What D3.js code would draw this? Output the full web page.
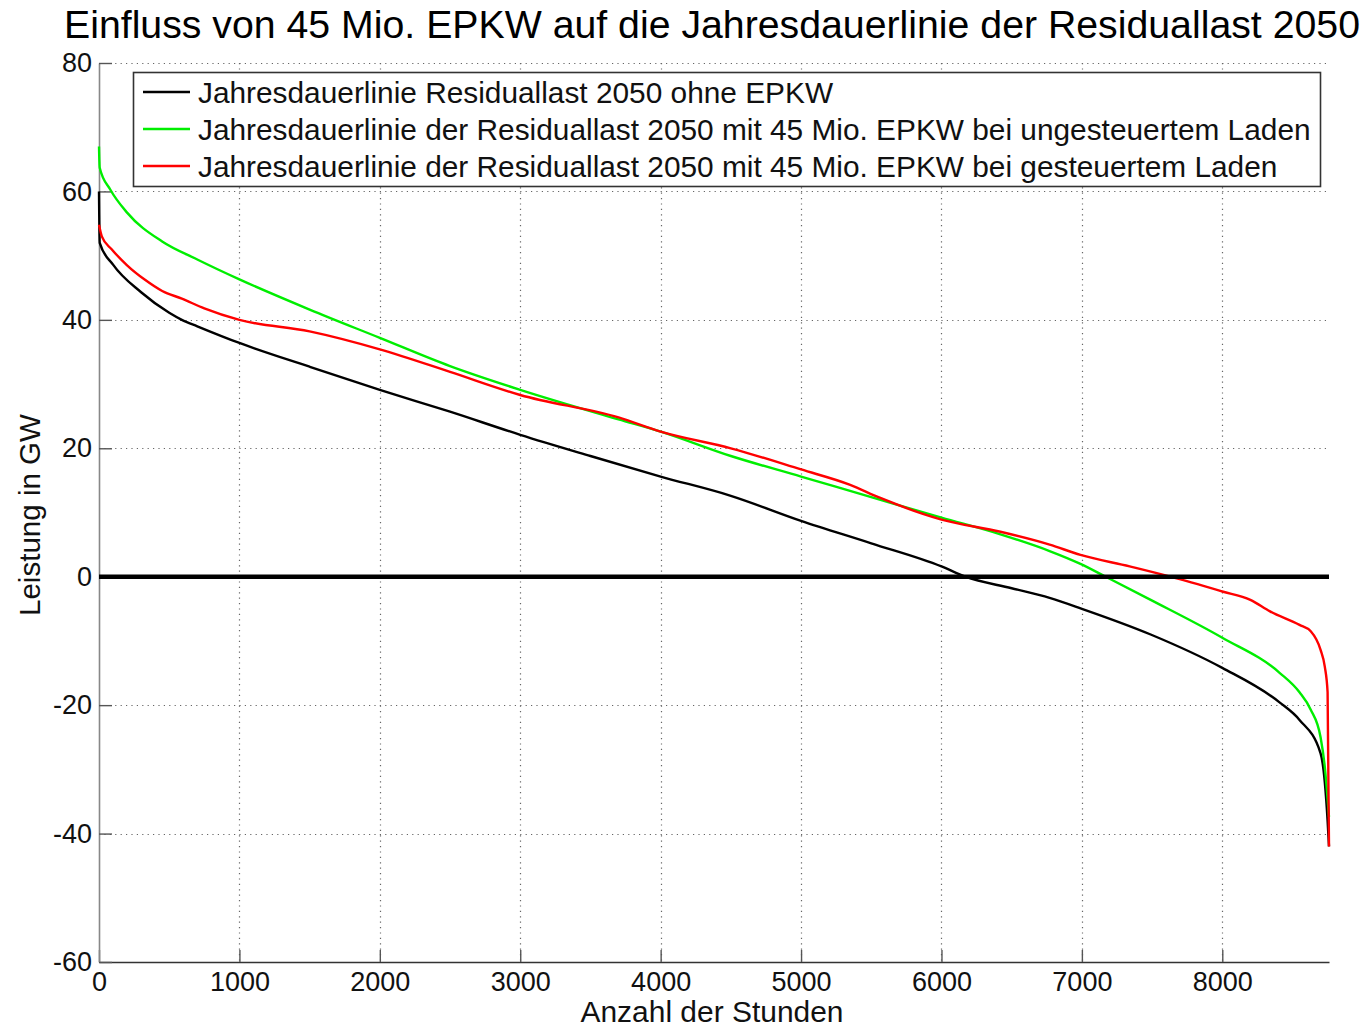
<!DOCTYPE html>
<html>
<head>
<meta charset="utf-8">
<script src="https://cdn.jsdelivr.net/npm/d3@7/dist/d3.min.js"></script>
<style>
  html, body { margin: 0; padding: 0; background: #fff; }
  svg { display: block; font-family: "Liberation Sans", Arial, Helvetica, sans-serif; }
</style>
</head>
<body>
<svg id="chart" width="1367" height="1027"></svg>
<script>
// Annual load duration curves of the residual load 2050 (GW over hours of the year)
const titleText = "Einfluss von 45 Mio. EPKW auf die Jahresdauerlinie der Residuallast 2050";
const xLabel = "Anzahl der Stunden";
const yLabel = "Leistung in GW";

const xTicks = [0, 1000, 2000, 3000, 4000, 5000, 6000, 7000, 8000];
const yTicks = [-60, -40, -20, 0, 20, 40, 60, 80];

const seriesNames = [
  "Jahresdauerlinie Residuallast 2050 ohne EPKW",
  "Jahresdauerlinie der Residuallast 2050 mit 45 Mio. EPKW bei ungesteuertem Laden",
  "Jahresdauerlinie der Residuallast 2050 mit 45 Mio. EPKW bei gesteuertem Laden"
];
const seriesColors = ["#000000", "#00ee00", "#ff0000"];

// ohne EPKW
const hoursBase = [0, 5, 100, 300, 500, 590, 700, 1000, 1500, 2000, 2500, 3000, 3500, 4000, 4500, 5000, 5500, 6000, 6170, 6500, 6770, 7000, 7490, 8000, 8410, 8550, 8700, 8730, 8750, 8760];
const loadBase  = [60, 52, 48.6, 44.3, 41.1, 40, 39, 36.4, 32.7, 29.1, 25.7, 22.1, 18.8, 15.6, 12.6, 8.7, 5.2, 1.6, 0, -1.8, -3.3, -5, -9, -14.2, -19.6, -22.3, -27.5, -32, -38, -42];

// mit 45 Mio. EPKW, ungesteuertes Laden
const hoursUncontrolled = [0, 5, 80, 200, 450, 700, 1000, 1500, 2000, 2500, 3000, 3700, 4000, 4500, 5000, 5560, 6000, 6420, 6770, 6990, 7170, 7490, 8000, 8410, 8550, 8630, 8700, 8730, 8760];
const loadUncontrolled  = [67, 63.7, 60.3, 56.7, 52.2, 49.4, 46.3, 41.6, 37.2, 32.8, 29.1, 24.5, 22.6, 18.8, 15.6, 12, 9.2, 6.6, 4.0, 2.0, 0, -3.6, -9.5, -15, -18, -20.7, -25, -29.6, -37.4];

// mit 45 Mio. EPKW, gesteuertes Laden
const hoursControlled = [0, 20, 90, 200, 330, 450, 590, 750, 1000, 1500, 2000, 2500, 3000, 3700, 4000, 4500, 5000, 5350, 5560, 6000, 6420, 6770, 6990, 7340, 7630, 8000, 8200, 8340, 8550, 8630, 8700, 8730, 8750, 8760];
const loadControlled  = [54.8, 53, 51, 48.5, 46.2, 44.5, 43.3, 41.8, 40, 38.2, 35.4, 31.9, 28.3, 24.8, 22.6, 20, 16.7, 14.3, 12.3, 8.9, 7, 5, 3.4, 1.6, 0, -2.3, -3.6, -5.4, -7.5, -8.5, -11.4, -14, -18, -42];

const svg = d3.select("#chart");
const margin = { left: 99, right: 1329, top: 63, bottom: 962 };

const x = d3.scaleLinear().domain([0, 8760]).range([margin.left, margin.right]);
const y = d3.scaleLinear().domain([-60, 80]).range([margin.bottom, margin.top]);

// fit a text element to a target width by scaling its font size
function fitWidth(sel, target) {
  const node = sel.node();
  const fs = parseFloat(sel.attr("font-size"));
  const w = node.getComputedTextLength();
  sel.attr("font-size", (fs * target / w).toFixed(2));
}

// dotted grid
const grid = svg.append("g").attr("stroke", "#666").attr("stroke-width", 1.2)
  .attr("stroke-dasharray", "1.2,4.2").attr("fill", "none");
grid.selectAll("line.h").data(yTicks.filter(v => v !== -60)).join("line")
  .attr("class", "h")
  .attr("x1", x(0)).attr("x2", x(8760))
  .attr("y1", d => Math.round(y(d)) + 0.5).attr("y2", d => Math.round(y(d)) + 0.5);
grid.selectAll("line.v").data(xTicks.filter(v => v !== 0)).join("line")
  .attr("class", "v")
  .attr("y1", y(80)).attr("y2", y(-60))
  .attr("x1", d => Math.round(x(d)) + 0.5).attr("x2", d => Math.round(x(d)) + 0.5);

// axes with inward ticks, plain integer labels
const plain = d => String(d);
const xAxis = d3.axisBottom(x).tickValues(xTicks).tickFormat(plain).tickSizeInner(-12).tickSizeOuter(0).tickPadding(20);
const yAxis = d3.axisLeft(y).tickValues(yTicks).tickFormat(plain).tickSizeInner(-13).tickSizeOuter(0).tickPadding(20);

const gx = svg.append("g").attr("transform", `translate(0,${margin.bottom})`).call(xAxis);
gx.select(".domain").attr("stroke", "#333").attr("stroke-width", 1.6);
gx.selectAll(".tick line").attr("stroke", "#555").attr("stroke-width", 1.4);
gx.selectAll(".tick text").attr("font-size", 27).attr("fill", "#111")
  .attr("font-family", "'Liberation Sans', Arial, sans-serif").attr("dy", "0.35em").attr("y", 20);

const gy = svg.append("g").attr("transform", `translate(${margin.left},0)`).call(yAxis);
gy.select(".domain").attr("stroke", "#888").attr("stroke-width", 1.6);
gy.selectAll(".tick line").attr("stroke", "#555").attr("stroke-width", 1.4);
gy.selectAll(".tick text").attr("font-size", 27).attr("fill", "#111")
  .attr("font-family", "'Liberation Sans', Arial, sans-serif").attr("x", -7);

// curves
const series = [
  { hours: hoursBase, load: loadBase },
  { hours: hoursUncontrolled, load: loadUncontrolled },
  { hours: hoursControlled, load: loadControlled }
];
const line = d3.line().x(d => x(d[0])).y(d => y(d[1])).curve(d3.curveMonotoneX);
series.forEach((s, i) => {
  svg.append("path")
    .datum(s.hours.map((h, k) => [h, s.load[k]]))
    .attr("d", line)
    .attr("fill", "none")
    .attr("stroke", seriesColors[i])
    .attr("stroke-width", 2.4)
    .attr("stroke-linejoin", "round");
});

// zero reference line
svg.append("line")
  .attr("x1", x(0)).attr("x2", x(8760))
  .attr("y1", y(0)).attr("y2", y(0))
  .attr("stroke", "#000").attr("stroke-width", 4.5);

// legend
const legend = svg.append("g");
legend.append("rect")
  .attr("x", 133.5).attr("y", 72.5).attr("width", 1187).attr("height", 114)
  .attr("fill", "#fff").attr("stroke", "#333").attr("stroke-width", 1.6);
const rowY = [92, 129, 166];
seriesNames.forEach((name, i) => {
  legend.append("line")
    .attr("x1", 143).attr("x2", 190).attr("y1", rowY[i]).attr("y2", rowY[i])
    .attr("stroke", seriesColors[i]).attr("stroke-width", 2.4);
  const t = legend.append("text")
    .attr("x", 198).attr("y", rowY[i]).attr("dy", "0.36em")
    .attr("font-size", 27).attr("fill", "#111").text(name);
  if (i === 1) t.attr("data-fit", "1");
});
// size all legend texts from the longest entry
const longest = legend.select("text[data-fit='1']");
fitWidth(longest, 1113);
legend.selectAll("text").attr("font-size", longest.attr("font-size"));

// title and axis labels
const title = svg.append("text")
  .attr("x", 64).attr("y", 38).attr("font-size", 36).attr("fill", "#000").text(titleText);
fitWidth(title, 1296);

const xl = svg.append("text")
  .attr("x", 712).attr("y", 1022).attr("text-anchor", "middle")
  .attr("font-size", 26).attr("fill", "#111").text(xLabel);
fitWidth(xl, 263);

const yl = svg.append("text")
  .attr("transform", "translate(40,515) rotate(-90)")
  .attr("text-anchor", "middle")
  .attr("font-size", 26).attr("fill", "#111").text(yLabel);
fitWidth(yl, 202);
</script>
</body>
</html>
